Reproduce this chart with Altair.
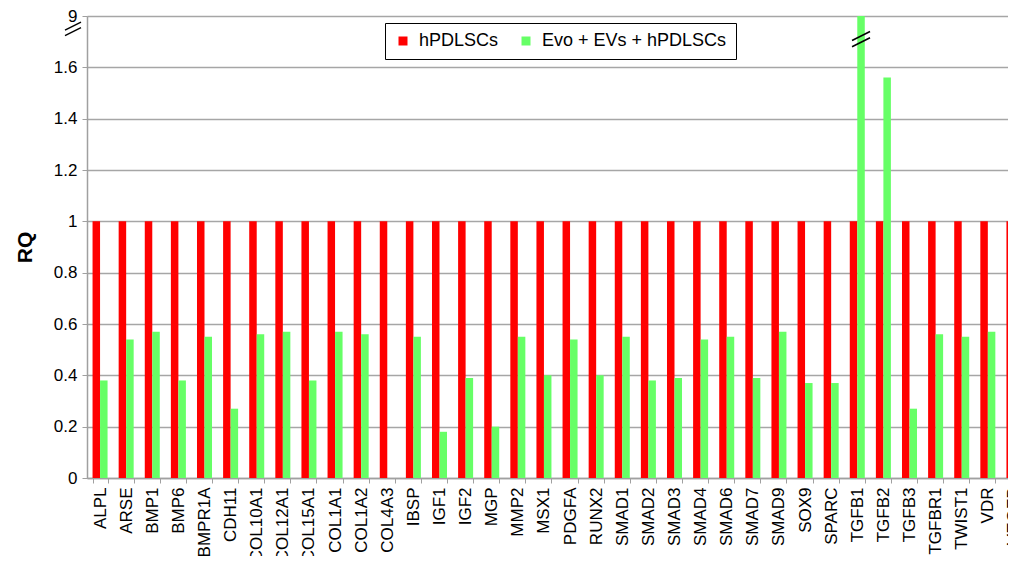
import altair as alt
import pandas as pd

genes = ["ALPL", "ARSE", "BMP1", "BMP6", "BMPR1A", "CDH11", "COL10A1", "COL12A1",
         "COL15A1", "COL1A1", "COL1A2", "COL4A3", "IBSP", "IGF1", "IGF2", "MGP",
         "MMP2", "MSX1", "PDGFA", "RUNX2", "SMAD1", "SMAD2", "SMAD3", "SMAD4",
         "SMAD6", "SMAD7", "SMAD9", "SOX9", "SPARC", "TGFB1", "TGFB2", "TGFB3",
         "TGFBR1", "TWIST1", "VDR", "VEGFB"]
control = [1.0] * len(genes)
treated = [0.38, 0.54, 0.57, 0.38, 0.55, 0.27, 0.56, 0.57,
           0.38, 0.57, 0.56, 0.0, 0.55, 0.18, 0.39, 0.20,
           0.55, 0.40, 0.54, 0.40, 0.55, 0.38, 0.39, 0.54,
           0.55, 0.39, 0.57, 0.37, 0.37, 9.0, 1.56, 0.27,
           0.56, 0.55, 0.57, 0.52]
series = ["hPDLSCs", "Evo + EVs + hPDLSCs"]
colors = ["#FF0000", "#66FF66"]
y_ticks = [0, 0.2, 0.4, 0.6, 0.8, 1.0, 1.2, 1.4, 1.6, 1.8]

rows = []
for g, c, t in zip(genes, control, treated):
    rows.append({"gene": g, "group": series[0], "value": c})
    rows.append({"gene": g, "group": series[1], "value": t})
df = pd.DataFrame(rows)

FONT = "Liberation Sans"
yscale = alt.Scale(domain=[0, 1.8], clamp=True, nice=False, zero=True)
xscale = alt.Scale(paddingInner=0.425, paddingOuter=0.2125, range=[0, 940])

bars = alt.Chart(df).mark_bar(clip=True).encode(
    x=alt.X("gene:N", sort=genes, scale=xscale, title=None,
            axis=alt.Axis(labelAngle=270, labelFontSize=17, labelFont=FONT,
                          labelColor="black", tickBand="extent", tickSize=5,
                          tickColor="#A0A0A0", domainColor="#A0A0A0",
                          domainWidth=1.5, labelPadding=4, labelAlign="right",
                          labelBaseline="middle", labelLimit=200)),
    xOffset=alt.XOffset("group:N", sort=series, scale=alt.Scale(paddingInner=0, paddingOuter=0)),
    y=alt.Y("value:Q", scale=yscale, title="RQ",
            axis=alt.Axis(values=y_ticks, labelFontSize=17, labelFont=FONT,
                          labelColor="black",
                          labelExpr="datum.value > 1.7 ? '9' : format(datum.value, '.1~f')",
                          gridColor="#A6A6A6", gridWidth=1.5, tickColor="#A0A0A0",
                          tickSize=5, domainColor="#A0A0A0", domainWidth=1.5,
                          labelPadding=5, titleFont=FONT, titleFontSize=21,
                          titleFontWeight="bold", titleColor="black",
                          titlePadding=18)),
    color=alt.Color("group:N", sort=series,
                    scale=alt.Scale(domain=series, range=colors),
                    legend=alt.Legend(title=None, orient="none", legendX=298, legendY=7,
                                      direction="horizontal", columns=2,
                                      symbolType="square", symbolSize=81,
                                      symbolStrokeWidth=0,
                                      labelFontSize=18, labelFont=FONT,
                                      labelColor="black", labelLimit=400,
                                      columnPadding=18, labelOffset=7,
                                      padding=9, strokeColor="black",
                                      fillColor="white")),
)

brk_df = pd.DataFrame({"gene": ["TGFB1"], "group": [series[1]], "value": [1.71]})
brk_path = "M-1,0.15L1,-0.85M-1,0.85L1,-0.15"
bar_break = alt.Chart(brk_df).mark_point(
    shape=brk_path, size=324, stroke="black", strokeWidth=1.6, filled=False, opacity=1
).encode(
    x=alt.X("gene:N", sort=genes, scale=xscale),
    xOffset=alt.XOffset("group:N", sort=series),
    y=alt.Y("value:Q", scale=yscale),
)

axis_brk_df = pd.DataFrame({"value": [1.75]})
axis_break = alt.Chart(axis_brk_df).mark_point(
    shape=brk_path, size=256, stroke="black", strokeWidth=1.4, filled=False,
    opacity=1, clip=False
).encode(
    x=alt.value(-14),
    y=alt.Y("value:Q", scale=yscale),
)

chart = alt.layer(bars, bar_break, axis_break).properties(
    width=921, height=462,
    autosize=alt.AutoSizeParams(type="none"),
    padding={"left": 79, "top": 8, "right": 0, "bottom": 78},
).configure_view(stroke=None).configure(background="white")

chart.save("out.html", embed_options={"renderer": "svg", "actions": False})
